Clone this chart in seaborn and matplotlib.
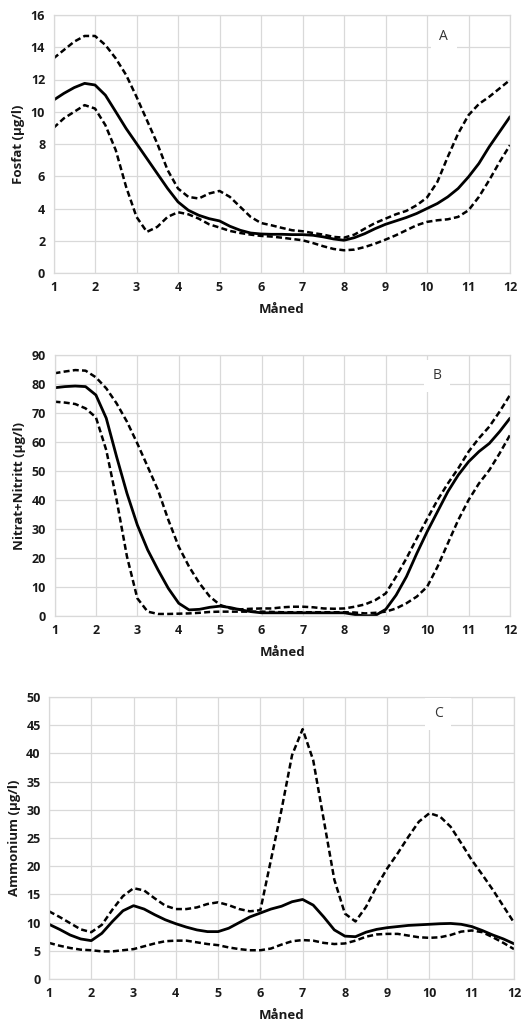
import matplotlib
matplotlib.use("Agg")
import matplotlib.pyplot as plt
import numpy as np
import pandas as pd
import seaborn as sns

# months, values read every quarter month off the picture
maaned = [1 + i / 4 for i in range(45)]

# A - Fosfat
fosfat_median = [10.72, 11.14, 11.5, 11.76, 11.66, 11.03, 10.0, 8.96, 8.03, 7.1, 6.17, 5.24, 4.41, 3.89, 3.58, 3.37, 3.23, 2.9, 2.65, 2.48, 2.42,
                 2.4, 2.4, 2.38, 2.38, 2.34, 2.24, 2.11, 2.03, 2.19, 2.44, 2.75, 3.02, 3.23, 3.44, 3.69, 4.0, 4.31, 4.72, 5.24, 5.96, 6.79, 7.83, 8.76, 9.69]
fosfat_hoy = [13.31, 13.83, 14.35, 14.7, 14.7, 14.14, 13.31, 12.28, 10.93, 9.48, 8.03, 6.38, 5.24, 4.72, 4.62, 4.93, 5.09, 4.72, 4.1, 3.48, 3.1,
              2.96, 2.8, 2.65, 2.59, 2.48, 2.38, 2.24, 2.19, 2.38, 2.75, 3.1, 3.37, 3.64, 3.85, 4.2, 4.68, 5.65, 7.2, 8.65, 9.79, 10.48, 10.93, 11.45, 11.97]
fosfat_lav = [9.0, 9.59, 10.0, 10.41, 10.2, 9.17, 7.62, 5.34, 3.48, 2.55, 2.86, 3.48, 3.77, 3.64, 3.37, 3.02, 2.82, 2.61, 2.48, 2.38, 2.3,
              2.26, 2.19, 2.11, 2.03, 1.86, 1.66, 1.49, 1.41, 1.45, 1.61, 1.82, 2.07, 2.34, 2.65, 2.96, 3.17, 3.27, 3.33, 3.48, 3.89, 4.72, 5.76, 6.89, 7.93]

# B - Nitrat+Nitritt
nitrat_median = [78.7, 79.1, 79.3, 79.1, 76.2, 68.2, 54.9, 42.3, 31.4, 22.8, 15.9, 9.5, 4.4, 2.1, 2.3, 3.0, 3.4, 2.9, 2.1, 1.5, 1.1,
                 1.1, 1.1, 1.1, 1.1, 1.1, 1.1, 1.1, 1.1, 0.5, 0.0, 0.2, 2.3, 7.2, 13.6, 21.6, 29.1, 36.0, 42.9, 48.6, 53.2, 56.7, 59.5, 63.6, 68.2]
nitrat_hoy = [83.7, 84.3, 84.8, 84.6, 82.3, 78.5, 73.3, 67.0, 59.5, 51.5, 43.4, 33.1, 23.9, 17.0, 11.3, 6.7, 3.8, 2.6, 2.3, 2.5, 2.6,
              2.6, 3.0, 3.2, 3.2, 3.0, 2.6, 2.5, 2.6, 3.2, 4.0, 5.5, 7.8, 13.6, 19.9, 26.8, 33.5, 40.0, 45.7, 50.9, 56.7, 61.3, 65.3, 70.5, 76.2]
nitrat_lav = [73.9, 73.6, 73.1, 71.6, 68.5, 57.2, 40.0, 20.5, 6.1, 1.5, 0.7, 0.7, 0.8, 0.9, 1.1, 1.4, 1.5, 1.5, 1.5, 1.5, 1.5,
              1.4, 1.3, 1.3, 1.3, 1.3, 1.3, 1.3, 1.3, 1.2, 0.9, 1.1, 1.5, 2.6, 4.4, 6.7, 10.1, 17.0, 25.1, 33.1, 40.0, 45.7, 50.3, 56.1, 62.4]

# C - Ammonium
ammonium_median = [9.7, 8.8, 7.8, 7.1, 6.8, 8.1, 10.2, 12.1, 13.0, 12.4, 11.4, 10.5, 9.8, 9.2, 8.7, 8.4, 8.4, 9.0, 10.0, 11.0, 11.7,
                   12.4, 12.9, 13.7, 14.1, 13.1, 11.0, 8.7, 7.6, 7.5, 8.3, 8.8, 9.1, 9.3, 9.5, 9.6, 9.7, 9.8, 9.85, 9.7, 9.3, 8.6, 7.8, 7.1, 6.25]
ammonium_hoy = [12.0, 11.0, 9.9, 8.8, 8.3, 9.6, 12.3, 14.7, 16.1, 15.7, 14.3, 13.0, 12.4, 12.4, 12.7, 13.3, 13.6, 13.1, 12.4, 12.0, 12.2,
                21.1, 30.0, 39.7, 44.3, 38.8, 28.2, 17.6, 11.6, 10.2, 12.8, 16.4, 19.6, 22.3, 25.2, 27.9, 29.4, 28.8, 27.0, 24.1, 21.1, 18.5, 15.8, 12.9, 10.0]
ammonium_lav = [6.4, 5.9, 5.5, 5.2, 5.1, 4.9, 4.9, 5.1, 5.3, 5.8, 6.3, 6.7, 6.8, 6.8, 6.5, 6.2, 6.0, 5.6, 5.3, 5.1, 5.1,
                5.4, 6.1, 6.7, 6.9, 6.8, 6.4, 6.2, 6.3, 6.8, 7.5, 7.9, 8.0, 8.0, 7.7, 7.4, 7.3, 7.4, 7.8, 8.4, 8.6, 8.3, 7.4, 6.4, 5.3]

sns.set_style("whitegrid", {"grid.color": "#d9d9d9", "axes.edgecolor": "#d9d9d9"})
plt.rcParams["font.family"] = ["Open Sans", "DejaVu Sans"]

W, H = 531, 1026
fig = plt.figure(figsize=(W / 100, H / 100), dpi=100)

# panel boxes in pixels: left, right, top, bottom
panels = [
    dict(box=(53.5, 510, 15, 273), med=fosfat_median, hoy=fosfat_hoy, lav=fosfat_lav,
         ylab="Fosfat (µg/l)", ymax=16, ystep=2, letter="A", lpos=(0.855, 0.915)),
    dict(box=(54.5, 510, 355, 616), med=nitrat_median, hoy=nitrat_hoy, lav=nitrat_lav,
         ylab="Nitrat+Nitritt (µg/l)", ymax=90, ystep=10, letter="B", lpos=(0.84, 0.92)),
    dict(box=(49, 514, 697, 979), med=ammonium_median, hoy=ammonium_hoy, lav=ammonium_lav,
         ylab="Ammonium (µg/l)", ymax=50, ystep=5, letter="C", lpos=(0.837, 0.94)),
]

for p in panels:
    l, r, t, b = p["box"]
    ax = fig.add_axes([l / W, 1 - b / H, (r - l) / W, (b - t) / H])
    sns.lineplot(x=maaned, y=p["hoy"], ax=ax, color="black", lw=1.8)
    sns.lineplot(x=maaned, y=p["lav"], ax=ax, color="black", lw=1.8)
    sns.lineplot(x=maaned, y=p["med"], ax=ax, color="black", lw=2.0)
    for line in ax.lines:
        line.set_solid_joinstyle("round")
    for line in ax.lines[:2]:
        line.set_dashes((2.4, 1.3))
        line.set_dash_joinstyle("round")
    ax.set_xlim(1, 12)
    ax.set_ylim(0, p["ymax"])
    ax.set_xticks(range(1, 13))
    ax.set_yticks(np.arange(0, p["ymax"] + 1, p["ystep"]))
    ax.grid(True, color="#d9d9d9", lw=0.9)
    for s in ax.spines.values():
        s.set_color("#d9d9d9")
        s.set_linewidth(0.9)
    ax.tick_params(axis="both", length=0, labelsize=9, pad=6, colors="#1a1a1a")
    for lab in ax.get_xticklabels() + ax.get_yticklabels():
        lab.set_fontweight("bold")
    ax.set_xlabel("Måned", fontsize=9.5, fontweight="bold", color="#1a1a1a", labelpad=6)
    ax.set_ylabel(p["ylab"], fontsize=9.5, fontweight="bold", color="#1a1a1a", labelpad=4)
    ax.text(p["lpos"][0], p["lpos"][1], p["letter"], transform=ax.transAxes, fontsize=10,
            color="#333333", ha="center", va="center",
            bbox=dict(facecolor="white", edgecolor="none", pad=6))

fig.savefig("out.png", dpi=100)
